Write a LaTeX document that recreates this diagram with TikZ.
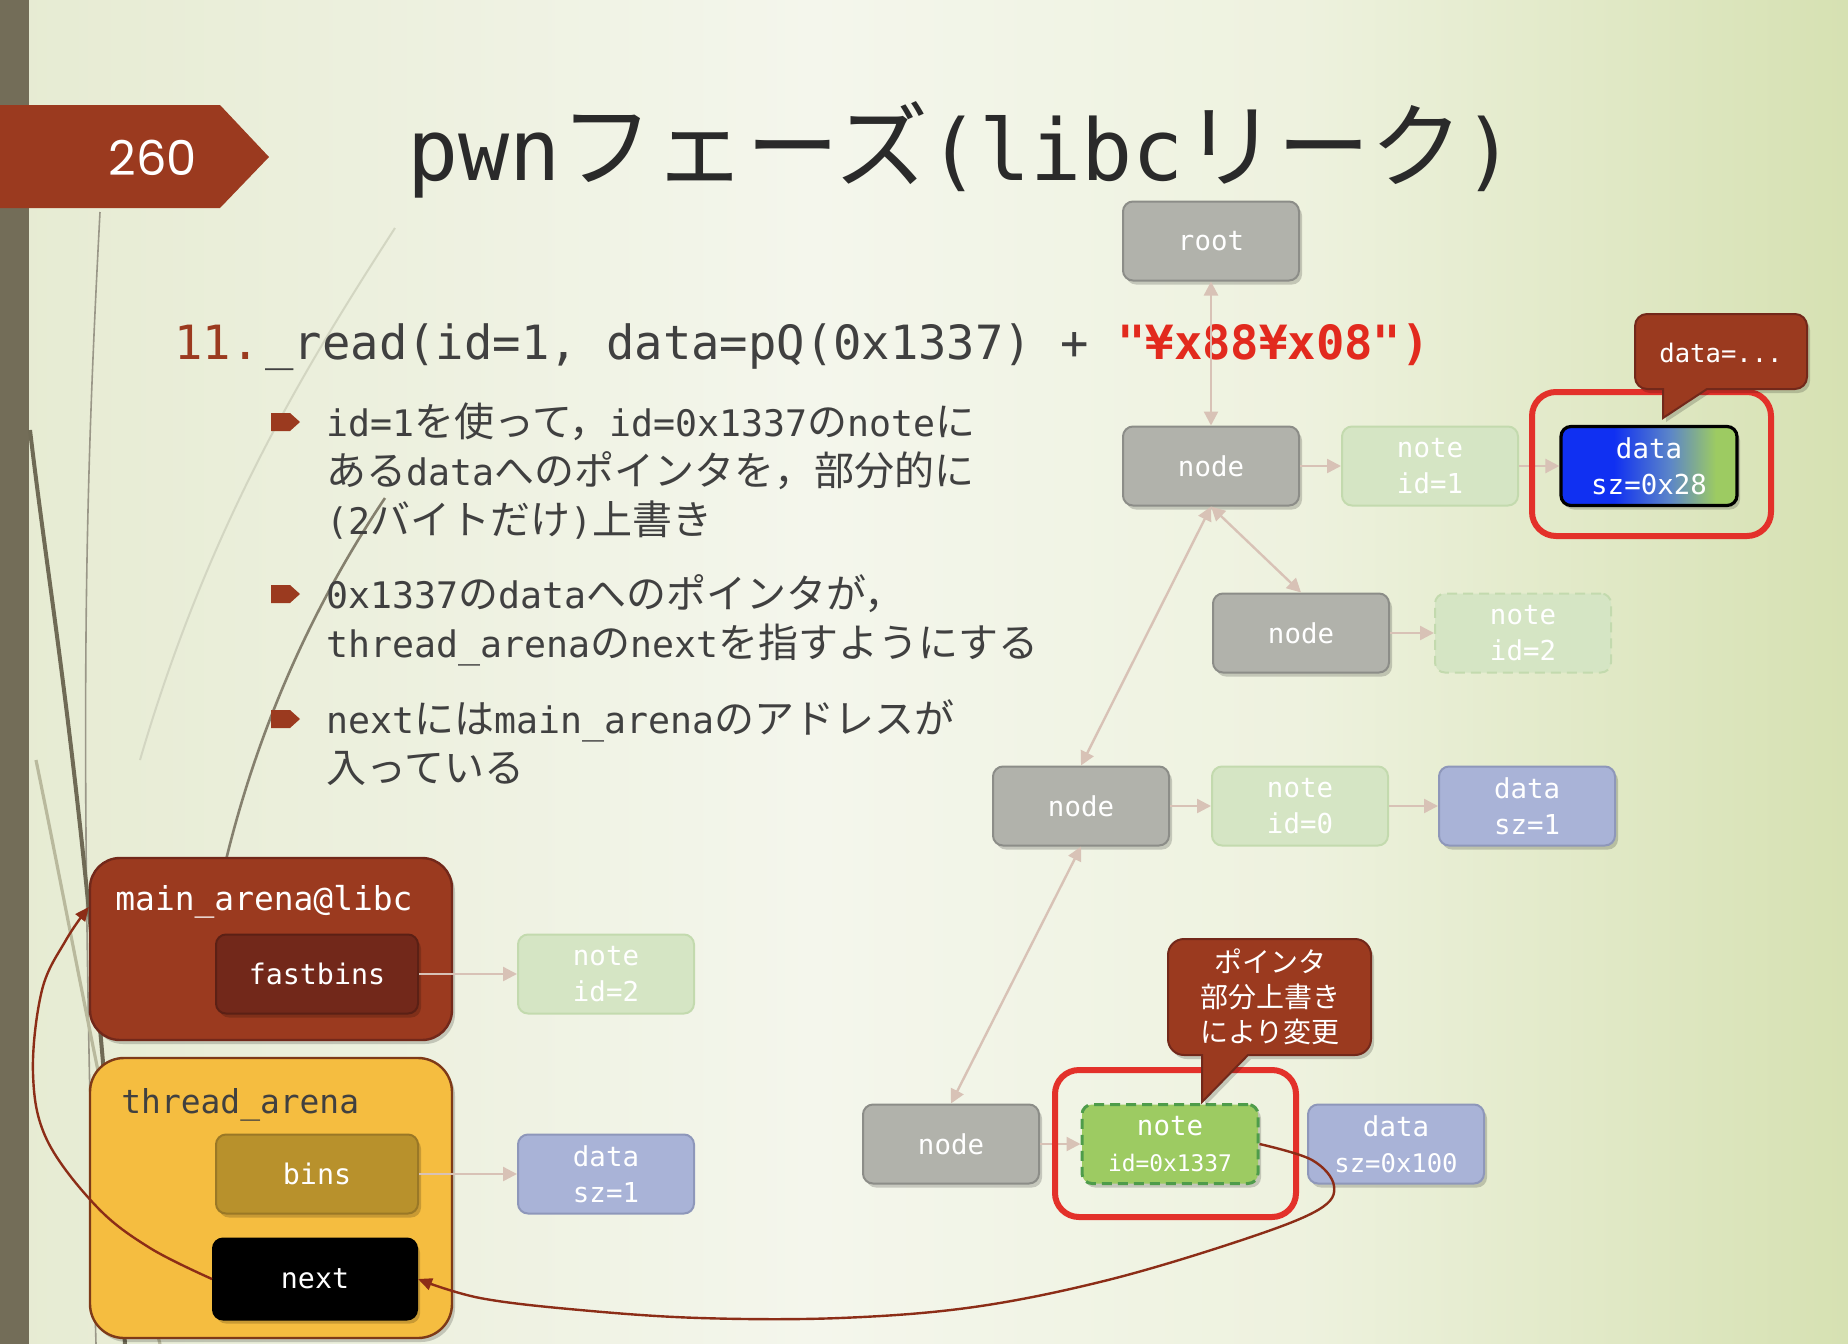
\documentclass[tikz,border=0pt]{standalone}
\usepackage{fontspec}
\setmonofont{DejaVu Sans Mono}[Scale=0.914]
\renewcommand*\familydefault{\ttdefault}
\newfontfamily\jp{Noto Sans CJK JP}
\newfontfamily\numfont{Poppins}
\usetikzlibrary{arrows.meta,shadows}
\newcommand\J[1]{{\jp #1}}
\newcommand\boxfont{\fontsize{15pt}{18pt}\selectfont}
\definecolor{bgL}{HTML}{E6EBD2}
\definecolor{bgM}{HTML}{F4F6EC}
\definecolor{bgM2}{HTML}{EEF2DF}
\definecolor{bgR}{HTML}{D6E1B2}
\definecolor{barcol}{HTML}{736D58}
\definecolor{brickred}{HTML}{9B3A1F}
\definecolor{brickdark}{HTML}{72281A}
\definecolor{titlegray}{HTML}{2A2A2A}
\definecolor{textgray}{HTML}{404040}
\definecolor{strred}{HTML}{E22A1E}
\definecolor{nodegray}{HTML}{B1B2AB}
\definecolor{nodegrayd}{HTML}{8C8D88}
\definecolor{fnotec}{HTML}{D5E5C4}
\definecolor{fnoted}{HTML}{C3DAAE}
\definecolor{fdatac}{HTML}{A9B3D7}
\definecolor{fdatad}{HTML}{8E97BA}
\definecolor{conncol}{HTML}{D8C2B6}
\definecolor{ringred}{HTML}{E3312A}
\definecolor{curvered}{HTML}{8C2D17}
\definecolor{greennote}{HTML}{9DCB62}
\definecolor{greenline}{HTML}{4E9C4A}
\definecolor{gradblue}{HTML}{1030F2}
\definecolor{gradmid}{HTML}{5C86C8}
\definecolor{arenayellow}{HTML}{F5BD40}
\definecolor{arenaline}{HTML}{7E3A18}
\definecolor{binsc}{HTML}{B8912C}
\definecolor{binsd}{HTML}{9A7826}
\definecolor{wispdark}{HTML}{6F6A55}
\definecolor{wisplight}{HTML}{B9B99D}
\definecolor{wispfaint}{HTML}{D3D6C2}
\pgfdeclarehorizontalshading{bgshade}{100bp}{color(0bp)=(bgL); color(25bp)=(bgL); color(47bp)=(bgM); color(60bp)=(bgM2); color(75bp)=(bgR); color(100bp)=(bgR)}
\pgfdeclarehorizontalshading{datashade}{100bp}{color(0bp)=(gradblue); color(40bp)=(gradblue); color(56bp)=(gradmid); color(69bp)=(greennote); color(100bp)=(greennote)}
\begin{document}
\begin{tikzpicture}[x=0.5pt,y=-0.5pt,
  every node/.style={inner sep=0pt},
  shad/.style={drop shadow={shadow xshift=1.5pt,shadow yshift=-2pt,opacity=0.18,fill=black}},
  box/.style={rounded corners=5pt, minimum width=88pt, minimum height=39.5pt, align=center, text=white, font=\boxfont, line width=1pt},
  graybox/.style={box, shad, fill=nodegray, draw=nodegrayd},
  fnote/.style={box, fill=fnotec, draw=fnoted},
  fdata/.style={box, fill=fdatac, draw=fdatad},
  conn/.style={draw=conncol, line width=1.2pt, -{Triangle[length=7pt,width=7pt]}},
  conntwo/.style={draw=conncol, line width=1.2pt, {Triangle[length=7pt,width=7pt]}-{Triangle[length=7pt,width=7pt]}},
  ring/.style={draw=ringred, line width=3pt, rounded corners=12pt},
  calloutbox/.style={fill=brickred, draw=brickdark, line width=1pt, shad},
  redcurve/.style={draw=curvered, line width=1.2pt, -{Triangle[length=7pt,width=6pt]}},
  bodytext/.style={anchor=base west, text=textgray, font=\fontsize{20pt}{24pt}\selectfont},
  bulletmark/.style={fill=brickred}
]
\useasboundingbox (0,0) rectangle (1848,1344);
% background
\shade[shading=bgshade] (0,0) rectangle (1848,1344);
\fill[barcol] (0,0) rectangle (29,1344);
% wisps
\draw[wispdark!70, line width=0.8pt] (100,212) .. controls (86,480) and (78,700) .. (96,1344);
\draw[wispdark, line width=2pt] (30,430) .. controls (55,640) and (85,780) .. (125,1344);
\draw[wisplight, line width=1.6pt] (36,760) .. controls (75,950) and (110,1150) .. (160,1344);
\draw[wispfaint, line width=1pt] (395,228) .. controls (310,360) and (210,520) .. (140,760);
\draw[wispdark!85, line width=1.3pt] (385,498) .. controls (330,580) and (265,700) .. (226,860);
% slide number
\fill[brickred] (0,105) -- (220,105) -- (269,157) -- (220,208) -- (0,208) -- cycle;
\node[text=white, font=\numfont\fontsize{24pt}{24pt}\selectfont] (pagenum) at (153,158) {260};
% title
\node[anchor=base west, text=titlegray, font=\fontsize{46.5pt}{50pt}\selectfont] (title) at (407,180) {pwn\J{フェーズ}(libc\J{リーク})};
% item line
\node[anchor=base west, text=textgray, font=\fontsize{25.8pt}{30pt}\selectfont] (item) at (174,359)
  {{\color{brickred}11.}\hspace{3pt}\_read(id=1, data=pQ(0x1337) + {\bfseries\color{strred}"¥x88¥x08")}};
% bullets
\fill[bulletmark] (271,413) -- (290,413) -- (300,422) -- (290,431) -- (271,431) -- cycle;
\fill[bulletmark] (271,585) -- (290,585) -- (300,594) -- (290,603) -- (271,603) -- cycle;
\fill[bulletmark] (271,710) -- (290,710) -- (300,719) -- (290,728) -- (271,728) -- cycle;
\node[bodytext] (b1a) at (326,436) {id=1\J{を使って，}id=0x1337\J{の}note\J{に}};
\node[bodytext] (b1b) at (326,485) {\J{ある}data\J{へのポインタを，部分的に}};
\node[bodytext] (b1c) at (326,534) {(2\J{バイトだけ})\J{上書き}};
\node[bodytext] (b2a) at (326,608) {0x1337\J{の}data\J{へのポインタが，}};
\node[bodytext] (b2b) at (326,657) {thread\_arena\J{の}next\J{を指すようにする}};
\node[bodytext] (b3a) at (326,733) {next\J{には}main\_arena\J{のアドレスが}};
\node[bodytext] (b3b) at (326,782) {\J{入っている}};
% tree nodes
\node[graybox] (root) at (1211,241) {root};
\node[graybox] (n1) at (1211,466) {node};
\node[fnote] (nt1) at (1430,466) {note\\id=1};
\node[box, shad, shading=datashade, draw=black, line width=1.6pt] (d28) at (1649,466) {data\\sz=0x28};
\node[graybox] (n2) at (1301,633) {node};
\node[fnote, dashed, dash pattern=on 5pt off 3pt] (nt2) at (1523,633) {note\\id=2};
\node[graybox] (n3) at (1081,806) {node};
\node[fnote] (nt0) at (1300,806) {note\\id=0};
\node[fdata, shad] (d1) at (1527,806) {data\\sz=1};
\node[graybox] (n4) at (951,1144) {node};
\node[box, shad, fill=greennote, draw=greenline, line width=1.5pt, dash pattern=on 5pt off 3pt] (nt1337) at (1170,1144) {note\\{\fontsize{12.5pt}{18pt}\selectfont id=0x1337}};
\node[fdata, shad] (d100) at (1396,1144) {data\\{\fontsize{14pt}{18pt}\selectfont sz=0x100}};
% tree connectors
\draw[conntwo] (root.south) -- (n1.north);
\draw[conn] (n1.east) -- (nt1.west);
\draw[conn] (nt1.east) -- (d28.west);
\draw[conntwo] (n1.south) -- (n2.north);
\draw[conn] (n2.east) -- (nt2.west);
\draw[conntwo] (n1.south) -- (n3.north);
\draw[conn] (n3.east) -- (nt0.west);
\draw[conn] (nt0.east) -- (d1.west);
\draw[conntwo] (n3.south) -- (n4.north);
\draw[conn] (n4.east) -- (nt1337.west);
% highlight rings
\draw[ring] (1532,392) rectangle (1771,536);
\draw[ring] (1055,1070) rectangle (1296,1217);
% callouts
\path[calloutbox] (1720,314) [rounded corners=6pt] -- (1807,314) -- (1807,389) [sharp corners] -- (1707,389) -- (1663,418) -- (1663,389) [rounded corners=6pt] -- (1635,389) -- (1635,314) [sharp corners] -- cycle;
\node[text=white, font=\fontsize{14pt}{17pt}\selectfont] (c1text) at (1721,353) {data=...};
\path[calloutbox] (1270,939) [rounded corners=8pt] -- (1371,939) -- (1371,1055) [sharp corners] -- (1248,1055) -- (1202,1102) -- (1202,1055) [rounded corners=8pt] -- (1168,1055) -- (1168,939) [sharp corners] -- cycle;
\node[text=white, align=center, font=\jp\fontsize{14pt}{17.5pt}\selectfont] (c2text) at (1270,997) {ポインタ\\部分上書き\\により変更};
% left arenas
\node[shad, fill=brickred, draw=brickdark, line width=1.2pt, rounded corners=15pt, minimum width=181pt, minimum height=91pt] (mbox) at (271,949) {};
\node[anchor=west, text=white, font=\fontsize{18pt}{20pt}\selectfont] (mlabel) at (115,902) {main\_arena@libc};
\node[box, shad, fill=brickdark, draw=brickdark!80!black, minimum width=101pt, font=\fontsize{15.5pt}{18pt}\selectfont] (fastbins) at (317,974) {fastbins};
\node[fnote] (nt2l) at (606,974) {note\\id=2};
\node[shad, fill=arenayellow, draw=arenaline, line width=1.2pt, rounded corners=17pt, minimum width=181pt, minimum height=140pt] (tbox) at (271,1198) {};
\node[anchor=west, text=textgray, font=\fontsize{18pt}{20pt}\selectfont] (tlabel) at (121,1105) {thread\_arena};
\node[box, shad, fill=binsc, draw=binsd, minimum width=101pt, font=\fontsize{15.5pt}{18pt}\selectfont] (bins) at (317,1174) {bins};
\node[fdata] (d1l) at (606,1174) {data\\sz=1};
\node[box, shad, fill=black, draw=black, minimum width=102pt, minimum height=40.5pt, font=\fontsize{15.5pt}{18pt}\selectfont] (next) at (315,1279) {next};
\draw[conn] (fastbins.east) -- (nt2l.west);
\draw[conn] (bins.east) -- (d1l.west);
% red curves
\draw[redcurve] plot[smooth, tension=0.6] coordinates {(nt1337.east) (1312,1160) (1334,1186) (1318,1210) (1242,1240) (1108,1280) (974,1307) (840,1318) (700,1318) (580,1310) (480,1298) (next.east)};
\draw[redcurve] plot[smooth, tension=0.6] coordinates {(next.west) (150,1248) (97,1207) (47,1140) (33,1073) (42,990) (66,940) (mbox.167)};
\end{tikzpicture}
\end{document}
